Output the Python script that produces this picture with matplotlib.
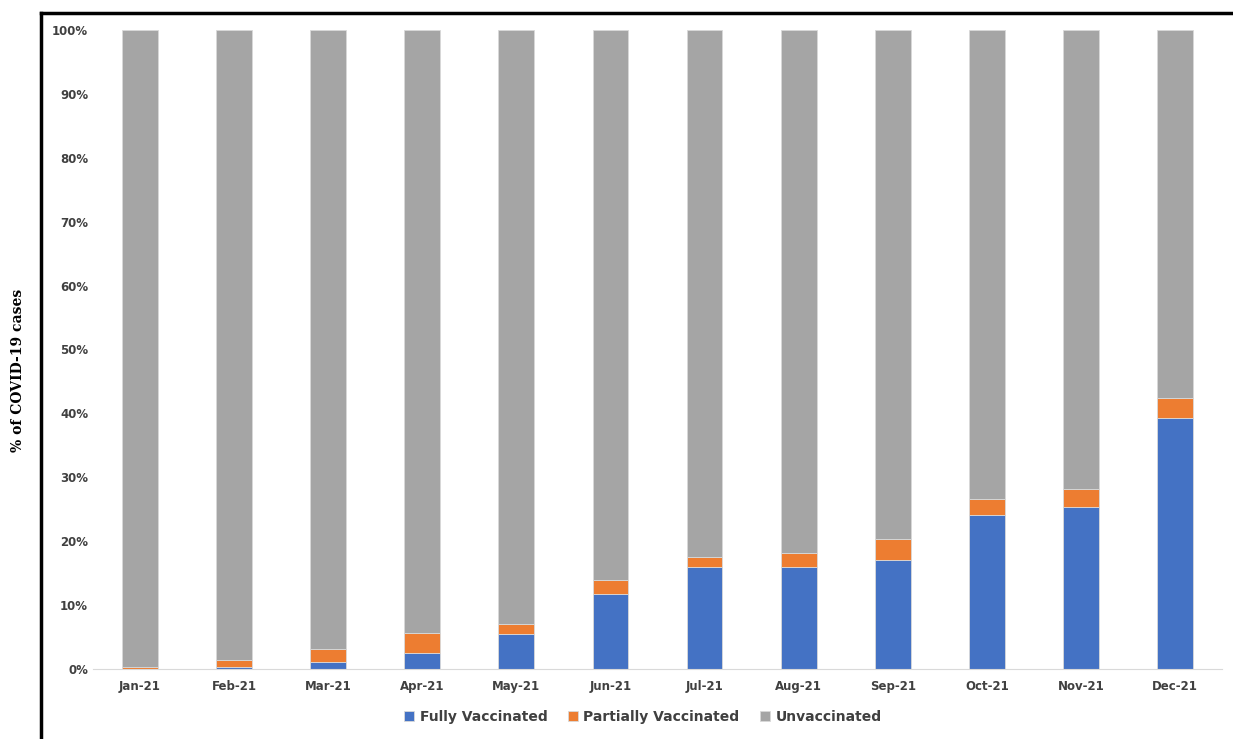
import matplotlib
matplotlib.use("Agg")
import matplotlib.pyplot as plt
import numpy as np
from matplotlib.ticker import PercentFormatter
from matplotlib.lines import Line2D

months = ["Jan-21","Feb-21","Mar-21","Apr-21","May-21","Jun-21","Jul-21","Aug-21","Sep-21","Oct-21","Nov-21","Dec-21"]
fully = [0.0, 0.3, 1.1, 2.5, 5.4, 11.8, 16.0, 16.0, 17.1, 24.1, 25.4, 39.3]
partial = [0.3, 1.1, 2.1, 3.2, 1.7, 2.2, 1.5, 2.2, 3.2, 2.5, 2.8, 3.1]
unvacc = [100 - f - p for f, p in zip(fully, partial)]

fig = plt.figure(figsize=(12.33, 7.39), dpi=100)
ax = fig.add_axes([93/1233, 1-669/739, (1222-93)/1233, (669-30)/739])
x = np.arange(len(months))
w = 0.38
ax.bar(x, fully, w, color="#4472C4", label="Fully Vaccinated", edgecolor="#d9d9d9", linewidth=0.6)
ax.bar(x, partial, w, bottom=fully, color="#ED7D31", label="Partially Vaccinated", edgecolor="#d9d9d9", linewidth=0.6)
ax.bar(x, unvacc, w, bottom=np.array(fully)+np.array(partial), color="#A5A5A5", label="Unvaccinated", edgecolor="#d9d9d9", linewidth=0.6)
ax.set_xlim(-0.5, len(months)-0.5)
ax.set_ylim(0, 100)
ax.set_yticks(range(0, 101, 10))
ax.yaxis.set_major_formatter(PercentFormatter(decimals=0))
ax.set_xticks(x)
ax.set_xticklabels(months)
for s in ["top", "right", "left"]:
    ax.spines[s].set_visible(False)
ax.spines["bottom"].set_color("#d9d9d9")
ax.tick_params(axis="y", length=0, labelsize=8.5)
ax.tick_params(axis="x", length=0, labelsize=8.5, pad=8)
for lab in ax.get_xticklabels() + ax.get_yticklabels():
    lab.set_fontweight("bold")
    lab.set_color("#404040")
fig.text(18/1233, 1-370/739, "% of COVID-19 cases", rotation=90, ha="center", va="center",
         fontfamily="DejaVu Serif", fontweight="bold", fontsize=10)
leg = fig.legend(loc="center", bbox_to_anchor=(643/1233, 1-717/739), ncol=3, frameon=False,
                 fontsize=10, handlelength=0.7, handleheight=0.7, columnspacing=1.5, handletextpad=0.4)
for t in leg.get_texts():
    t.set_fontweight("bold"); t.set_color("#404040")
fig.add_artist(Line2D([41/1233, 41/1233], [0, 1-13/739], color="black", lw=2.5, transform=fig.transFigure))
fig.add_artist(Line2D([41/1233, 1], [1-13/739, 1-13/739], color="black", lw=2.5, transform=fig.transFigure))
fig.savefig("out.png", dpi=100)
